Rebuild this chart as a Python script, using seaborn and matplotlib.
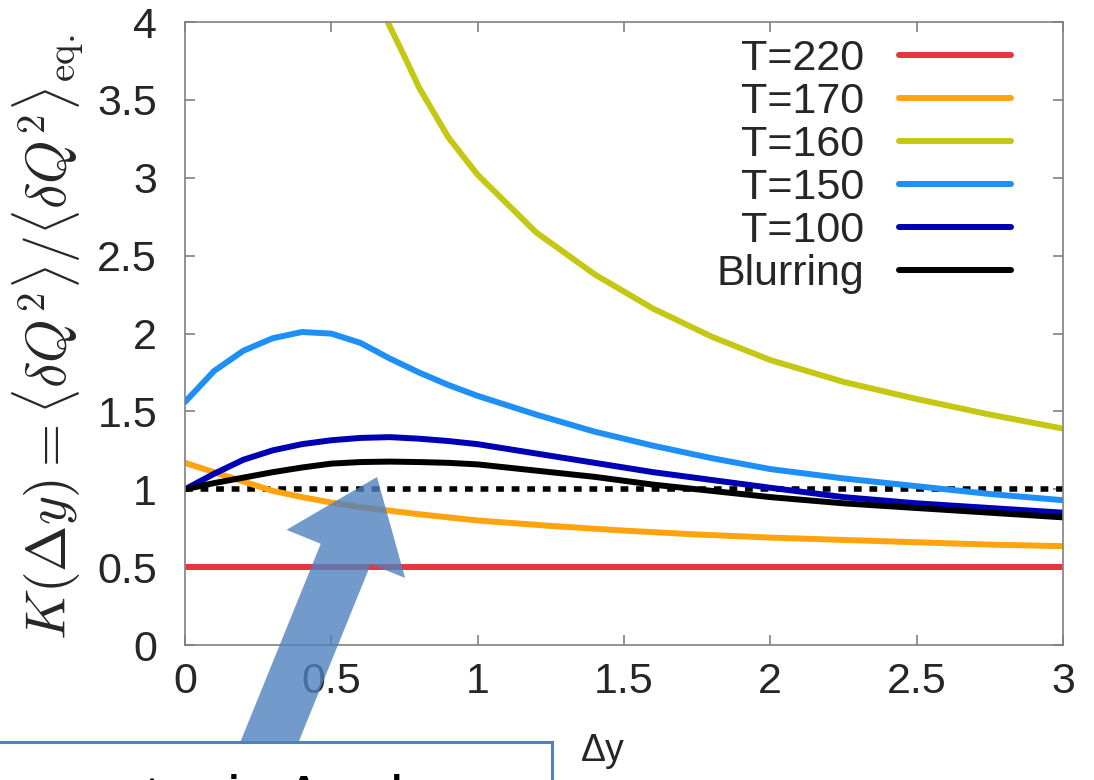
import numpy as np
import pandas as pd
import matplotlib.pyplot as plt
import seaborn as sns
from matplotlib.patches import FancyArrow, Rectangle

# K(dy) curves, values
dy_220 = [0.0, 3.0]
k_220 = [0.5, 0.5]

dy_170 = [0.0, 0.1, 0.2, 0.3, 0.4, 0.5, 0.6, 0.8, 1.0, 1.25, 1.5, 1.75, 2.0, 2.25, 2.5, 2.75, 3.0]
k_170 = [1.17, 1.11, 1.05, 0.99, 0.95, 0.915, 0.885, 0.84, 0.80, 0.765, 0.735, 0.71, 0.69, 0.675, 0.66, 0.645, 0.635]

dy_160 = [0.68, 0.75, 0.8, 0.9, 1.0, 1.2, 1.4, 1.6, 1.8, 2.0, 2.25, 2.5, 2.75, 3.0]
k_160 = [4.05, 3.78, 3.58, 3.26, 3.02, 2.65, 2.38, 2.16, 1.98, 1.83, 1.69, 1.58, 1.48, 1.39]

dy_150 = [0.0, 0.1, 0.2, 0.3, 0.4, 0.5, 0.6, 0.7, 0.8, 0.9, 1.0, 1.2, 1.4, 1.6, 1.8, 2.0, 2.25, 2.5, 2.75, 3.0]
k_150 = [1.56, 1.76, 1.89, 1.97, 2.01, 2.0, 1.94, 1.84, 1.75, 1.67, 1.60, 1.48, 1.37, 1.28, 1.20, 1.13, 1.07, 1.02, 0.97, 0.93]

dy_100 = [0.0, 0.1, 0.2, 0.3, 0.4, 0.5, 0.6, 0.7, 0.8, 0.9, 1.0, 1.2, 1.4, 1.6, 1.8, 2.0, 2.25, 2.5, 2.75, 3.0]
k_100 = [1.0, 1.10, 1.19, 1.25, 1.29, 1.315, 1.33, 1.335, 1.325, 1.31, 1.29, 1.23, 1.17, 1.11, 1.06, 1.01, 0.95, 0.91, 0.88, 0.85]

dy_blur = [0.0, 0.1, 0.2, 0.3, 0.4, 0.5, 0.6, 0.7, 0.8, 0.9, 1.0, 1.2, 1.4, 1.6, 1.8, 2.0, 2.25, 2.5, 2.75, 3.0]
k_blur = [1.0, 1.04, 1.075, 1.11, 1.14, 1.165, 1.175, 1.178, 1.175, 1.17, 1.16, 1.12, 1.08, 1.03, 0.99, 0.95, 0.91, 0.88, 0.85, 0.82]

labels = ['T=220', 'T=170', 'T=160', 'T=150', 'T=100', 'Blurring']
colors = ['#e8343c', '#ffa30f', '#c5c812', '#1e8ff5', '#0000b4', '#000000']

xticks = [0, 0.5, 1, 1.5, 2, 2.5, 3]
xtick_labels = ['0', '0.5', '1', '1.5', '2', '2.5', '3']
yticks = [0, 0.5, 1, 1.5, 2, 2.5, 3, 3.5, 4]
ytick_labels = ['0', '0.5', '1', '1.5', '2', '2.5', '3', '3.5', '4']

series = [(dy_220, k_220), (dy_170, k_170), (dy_160, k_160),
          (dy_150, k_150), (dy_100, k_100), (dy_blur, k_blur)]
df = pd.concat([pd.DataFrame({'dy': x, 'K': y, 'curve': lab})
                for (x, y), lab in zip(series, labels)], ignore_index=True)

sns.set_style('ticks')
plt.rcParams['font.family'] = ['Liberation Sans', 'DejaVu Sans']
plt.rcParams['mathtext.fontset'] = 'cm'

fig = plt.figure(figsize=(10.94, 7.8), dpi=100)
ax = fig.add_axes([0.169, 0.173, 0.8026, 0.7987])

# dotted reference line at K = 1
ax.axhline(1.0, color='black', lw=4, ls=(0, (1.4, 1.4)), zorder=1.5)

sns.lineplot(data=df, x='dy', y='K', hue='curve', hue_order=labels, palette=colors,
             linewidth=4.3, sort=False, estimator=None, ax=ax, zorder=2)

ax.set_xlim(0, 3)
ax.set_ylim(0, 4)
ax.set_xticks(xticks)
ax.set_xticklabels(xtick_labels)
ax.set_yticks(yticks)
ax.set_yticklabels(ytick_labels)
ax.tick_params(direction='in', length=7, width=1.2, color='#808080', labelsize=31,
               top=True, right=True)
ax.tick_params(axis='x', pad=12)
ax.tick_params(axis='y', pad=20)
for s in ax.spines.values():
    s.set_color('#808080')
    s.set_linewidth(1.2)

ax.set_xlabel('Δy', fontsize=27)
ax.xaxis.set_label_coords(0.476, -0.141)
ax.set_ylabel(r'$K(\Delta y) = \langle \delta Q^2\rangle / \langle \delta Q^2\rangle_{\rm eq.}$',
              fontsize=40)
ax.yaxis.set_label_coords(-0.112, 0.495)

handles, lbls = ax.get_legend_handles_labels()
leg = ax.legend(handles, lbls, loc='upper right', bbox_to_anchor=(0.975, 1.021),
                frameon=False, markerfirst=False, fontsize=31, handlelength=2.6,
                handletextpad=0.8, labelspacing=0.07, borderpad=0.2)
for h in leg.get_lines():
    h.set_linewidth(4.3)

# callout arrow and (cut-off) text box from the slide
arrow = FancyArrow(2.50, -0.1, 1.27, 3.13, width=0.54, head_width=1.28, head_length=0.83,
                   length_includes_head=True, color='#4f81bd', alpha=0.8, lw=0,
                   transform=fig.dpi_scale_trans)
fig.add_artist(arrow)
box = Rectangle((-0.1, -0.5), 5.62, 0.88, facecolor='white', edgecolor='#4f81bd', lw=2.2,
                transform=fig.dpi_scale_trans)
fig.add_artist(box)
note = fig.text(-1.35, -0.37, 'Non-monotonic Δy dependence', fontsize=43, color='black',
                transform=fig.dpi_scale_trans, va='baseline', ha='left')
note.set_clip_path(box)

fig.savefig('out.png', dpi=100)
